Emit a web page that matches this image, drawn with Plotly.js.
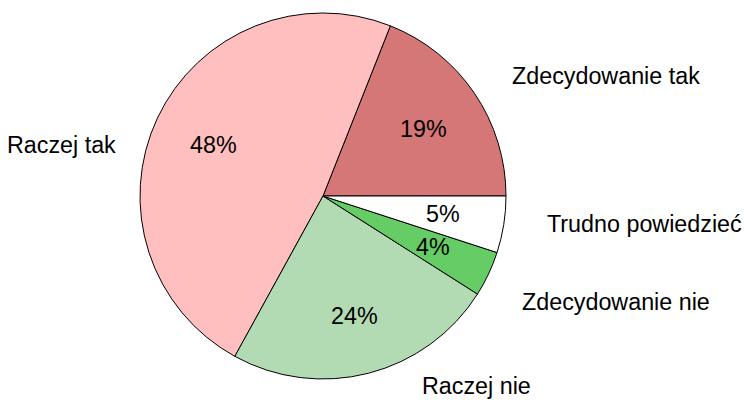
<!DOCTYPE html>
<html>
<head>
<meta charset="utf-8">
<script src="https://cdn.plot.ly/plotly-3.0.1.min.js"></script>
<style>html,body{margin:0;padding:0;background:#fff}#chart{width:744px;height:402px}</style>
</head>
<body>
<div id="chart"></div>
<script>
// Data
var categories = ["Zdecydowanie tak", "Raczej tak", "Raczej nie", "Zdecydowanie nie", "Trudno powiedzieć"];
var values = [19, 48, 24, 4, 5];
var percentLabels = ["19%", "48%", "24%", "4%", "5%"];
var sliceColors = ["#d67777", "#ffbfbf", "#b3dbb3", "#66cc66", "#ffffff"];

// Label placement (pixel positions in the 744x402 frame)
var W = 744, H = 402;
var catPos = [[510, 76, "left"], [118, 145, "right"], [420, 386, "left"], [520, 302, "left"], [545, 224, "left"]];
var pctPos = [[423, 129], [213, 145], [354, 316], [433, 247], [443, 214]];

var font = {family: "Liberation Sans, Arial, sans-serif", size: 23.3, color: "#000"};
var annotations = [];
categories.forEach(function (c, i) {
  annotations.push({
    text: c, xref: "paper", yref: "paper",
    x: catPos[i][0] / W, y: 1 - catPos[i][1] / H,
    xanchor: catPos[i][2], yanchor: "middle", showarrow: false, font: font
  });
  annotations.push({
    text: percentLabels[i], xref: "paper", yref: "paper",
    x: pctPos[i][0] / W, y: 1 - pctPos[i][1] / H,
    xanchor: "center", yanchor: "middle", showarrow: false, font: font
  });
});

var total = values.reduce(function (a, b) { return a + b; }, 0);
// counterclockwise pies in Plotly place the first slice clockwise of `rotation`;
// shift so that the first slice begins at 3 o'clock and runs counterclockwise
var rotation = 90 - 360 * values[0] / total;

var trace = {
  type: "pie",
  labels: categories,
  values: values,
  sort: false,
  direction: "counterclockwise",
  rotation: rotation,
  textinfo: "none",
  hoverinfo: "label+percent",
  marker: {colors: sliceColors, line: {color: "#000", width: 1}},
  domain: {x: [140 / W, 506 / W], y: [1 - 379 / H, 1 - 13 / H]}
};

var layout = {
  width: W, height: H,
  margin: {l: 0, r: 0, t: 0, b: 0},
  showlegend: false,
  paper_bgcolor: "#fff",
  annotations: annotations
};

Plotly.newPlot("chart", [trace], layout, {staticPlot: true, displayModeBar: false});
</script>
</body>
</html>
